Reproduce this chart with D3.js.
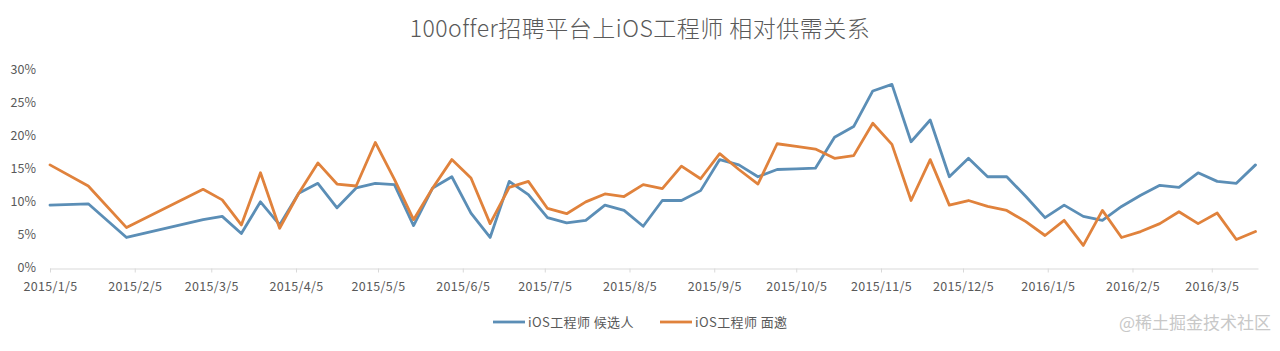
<!DOCTYPE html>
<html><head><meta charset="utf-8">
<script src="https://cdn.jsdelivr.net/npm/d3@7"></script>
<style>html,body{margin:0;padding:0;background:#fff;}svg{display:block;}</style>
</head><body>
<svg id="c" width="1280" height="351"></svg>
<script>
// Weekly dates (some early weeks missing)
const dates = ["2015-01-05","2015-01-19","2015-02-02","2015-03-02","2015-03-09","2015-03-16","2015-03-23","2015-03-30",
"2015-04-06","2015-04-13","2015-04-20","2015-04-27","2015-05-04","2015-05-11","2015-05-18","2015-05-25","2015-06-01",
"2015-06-08","2015-06-15","2015-06-22","2015-06-29","2015-07-06","2015-07-13","2015-07-20","2015-07-27","2015-08-03",
"2015-08-10","2015-08-17","2015-08-24","2015-08-31","2015-09-07","2015-09-14","2015-09-21","2015-09-28","2015-10-05",
"2015-10-12","2015-10-19","2015-10-26","2015-11-02","2015-11-09","2015-11-16","2015-11-23","2015-11-30","2015-12-07",
"2015-12-14","2015-12-21","2015-12-28","2016-01-04","2016-01-11","2016-01-18","2016-01-25","2016-02-01","2016-02-08",
"2016-02-15","2016-02-22","2016-02-29","2016-03-07","2016-03-14","2016-03-21"];
// iOS工程师 候选人 (%)
const candidates = [9.6,9.8,4.7,7.4,7.9,5.3,10.1,6.6,
11.4,12.9,9.2,12.2,12.9,12.7,6.5,12.2,13.9,
8.4,4.7,13.2,11.2,7.7,6.9,7.3,9.6,8.8,
6.4,10.3,10.3,11.8,16.5,15.7,13.9,15.0,15.1,
15.2,19.9,21.5,26.9,27.9,19.2,22.5,13.9,16.7,
13.9,13.9,10.9,7.7,9.6,7.9,7.3,9.4,11.1,
12.6,12.3,14.5,13.2,12.9,15.7];
// iOS工程师 面邀 (%)
const interviews = [15.7,12.5,6.2,12.0,10.4,6.6,14.5,6.1,
11.4,16.0,12.8,12.5,19.1,13.5,7.4,12.2,16.5,
13.7,6.8,12.3,13.2,9.1,8.3,10.1,11.3,10.9,
12.7,12.1,15.5,13.6,17.4,15.0,12.8,18.9,18.5,
18.1,16.7,17.1,22.0,18.8,10.3,16.5,9.6,10.3,
9.4,8.8,7.1,5.0,7.3,3.5,8.8,4.7,5.6,
6.8,8.6,6.8,8.4,4.4,5.6];
const yTicks = [0,5,10,15,20,25,30];
const xTickLabels = ["2015/1/5","2015/2/5","2015/3/5","2015/4/5","2015/5/5","2015/6/5","2015/7/5","2015/8/5",
"2015/9/5","2015/10/5","2015/11/5","2015/12/5","2016/1/5","2016/2/5","2016/3/5"];
const seriesNames = ["iOS工程师 候选人","iOS工程师 面邀"];
const colors = ["#5b8eb6","#e0823c"];
const title = "100offer招聘平台上iOS工程师 相对供需关系";

const parse = d3.timeParse("%Y-%m-%d");
const parseTick = d3.timeParse("%Y/%m/%d");
const svg = d3.select("#c");
const font = "'Noto Sans CJK SC','Noto Sans',sans-serif";

const x = d3.scaleTime().domain([parse("2015-01-05"), parse("2016-03-21")]).range([50, 1255.5]);
const y = d3.scaleLinear().domain([0, 30]).range([268.5, 70.5]);

svg.append("text").attr("x", 640).attr("y", 37).attr("text-anchor", "middle")
  .attr("font-family", font).attr("font-size", 23).attr("font-weight", 300).attr("letter-spacing", 0.5)
  .attr("fill", "#595959").text(title);

// y labels
svg.append("g").selectAll("text").data(yTicks).join("text")
  .attr("x", 36).attr("y", d => y(d)).attr("dy", "0.3em").attr("text-anchor", "end")
  .attr("font-family", font).attr("font-size", 12.5).attr("fill", "#595959").text(d => d + "%");

// x axis
const tickDates = xTickLabels.map(parseTick);
const xAxis = d3.axisBottom(x).tickValues(tickDates).tickSize(4).tickSizeOuter(0).tickFormat((d,i) => xTickLabels[i]);
const gx = svg.append("g").attr("transform", "translate(0,268.5)").call(xAxis);
gx.select(".domain").attr("stroke", "#d9d9d9").attr("d", `M${x.range()[0]},0.5H${x.range()[1]+3}`);
gx.selectAll(".tick line").attr("stroke", "#d9d9d9");
gx.selectAll(".tick text").attr("fill", "#595959").attr("font-family", font).attr("font-size", 12.5)
  .attr("letter-spacing", 0.3).attr("y", 14);

const pts = [candidates, interviews].map(arr => arr.map((v, i) => [parse(dates[i]), v]));
const line = d3.line().x(d => x(d[0])).y(d => y(d[1]));
svg.append("g").selectAll("path").data(pts).join("path")
  .attr("d", line).attr("fill", "none").attr("stroke", (d, i) => colors[i])
  .attr("stroke-width", 2.8).attr("stroke-linejoin", "round").attr("stroke-linecap", "round");

// legend
const leg = svg.append("g");
const legX = [493, 660];
seriesNames.forEach((n, i) => {
  leg.append("line").attr("x1", legX[i]).attr("x2", legX[i] + 32).attr("y1", 322).attr("y2", 322)
    .attr("stroke", colors[i]).attr("stroke-width", 2.8);
  leg.append("text").attr("x", legX[i] + 35).attr("y", 322).attr("dy", "0.36em")
    .attr("font-family", font).attr("font-size", 13).attr("letter-spacing", 0.4).attr("fill", "#595959").text(n);
});

// watermark
svg.append("text").attr("x", 1271).attr("y", 323).attr("dy", "0.36em").attr("text-anchor", "end")
  .attr("font-family", font).attr("font-size", 17).attr("fill", "#c8c8c8").text("@稀土掘金技术社区");
</script>
</body></html>
